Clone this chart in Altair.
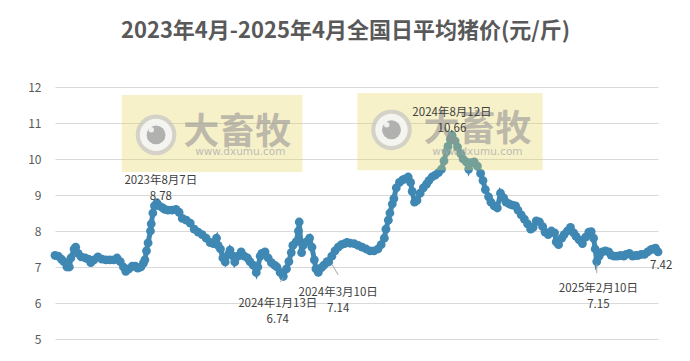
import altair as alt
import pandas as pd

# ---------------- data ----------------
start_date = "2023-04-01"
day_offsets = [
    0, 4, 8, 11, 15, 18, 20, 24, 26, 29, 33, 38, 42, 45, 49, 54, 59, 64, 69, 74,
    78, 82, 86, 89, 93, 97, 101, 104, 108, 111, 113, 115, 117, 120, 121, 123, 125, 128, 131, 135,
    138, 142, 147, 152, 156, 160, 165, 170, 175, 180, 185, 190, 195, 199, 203, 205, 208, 211, 214, 218,
    220, 224, 226, 230, 234, 238, 242, 245, 249, 253, 255, 258, 260, 264, 268, 272, 276, 279, 283, 287,
    291, 294, 297, 299, 303, 306, 307, 310, 312, 316, 320, 323, 326, 328, 331, 335, 338, 342, 344, 348,
    352, 356, 360, 364, 367, 371, 376, 381, 386, 391, 396, 401, 406, 410, 414, 416, 419, 421, 424, 426,
    429, 433, 437, 440, 444, 447, 449, 452, 455, 459, 463, 467, 470, 474, 478, 482, 486, 489, 492, 494,
    497, 499, 503, 506, 510, 513, 517, 520, 523, 527, 531, 535, 538, 541, 545, 548, 552, 556, 560, 564,
    567, 571, 575, 579, 582, 586, 590, 594, 598, 601, 605, 609, 613, 616, 620, 624, 628, 630, 633, 637,
    640, 644, 648, 652, 655, 659, 663, 667, 671, 674, 677, 679, 681, 684, 688, 692, 696, 699, 703, 707,
    711, 715, 718, 722, 726, 730, 733, 737, 741, 745, 749, 752, 755, 758,
]
prices = [
    7.32, 7.30, 7.22, 7.15, 7.00, 7.00, 7.25, 7.50, 7.55, 7.38, 7.28, 7.25, 7.22, 7.12, 7.20, 7.28, 7.22, 7.20, 7.20, 7.20,
    7.25, 7.15, 7.00, 6.88, 6.95, 7.02, 7.02, 6.97, 7.00, 7.10, 7.20, 7.45, 7.67, 8.00, 8.20, 8.50, 8.70, 8.78, 8.70, 8.65,
    8.60, 8.58, 8.58, 8.60, 8.52, 8.35, 8.30, 8.22, 8.05, 7.97, 7.90, 7.80, 7.68, 7.65, 7.80, 7.60, 7.50, 7.25, 7.14, 7.35,
    7.47, 7.30, 7.14, 7.30, 7.42, 7.30, 7.25, 7.15, 7.05, 6.85, 7.00, 7.30, 7.38, 7.42, 7.25, 7.12, 7.05, 7.00, 6.85, 6.74,
    6.95, 7.15, 7.40, 7.60, 7.70, 8.00, 8.25, 7.40, 7.60, 7.70, 7.80, 7.55, 7.20, 6.95, 6.85, 6.98, 7.05, 7.15, 7.14, 7.30,
    7.45, 7.55, 7.62, 7.65, 7.68, 7.66, 7.65, 7.60, 7.55, 7.50, 7.45, 7.45, 7.50, 7.62, 7.80, 8.05, 8.30, 8.50, 8.75, 8.90,
    9.20, 9.35, 9.42, 9.45, 9.50, 9.35, 9.10, 8.80, 8.85, 9.05, 9.20, 9.30, 9.40, 9.50, 9.55, 9.62, 9.72, 9.95, 10.20, 10.35,
    10.55, 10.66, 10.50, 10.33, 10.15, 10.00, 9.92, 9.72, 9.90, 9.92, 9.80, 9.60, 9.40, 9.15, 8.95, 8.80, 8.70, 8.64, 9.05, 8.92,
    8.80, 8.75, 8.72, 8.70, 8.58, 8.45, 8.33, 8.20, 8.05, 8.10, 8.28, 8.25, 8.12, 7.97, 7.90, 8.00, 7.95, 7.70, 7.62, 7.80,
    7.90, 8.00, 8.10, 7.95, 7.85, 7.75, 7.65, 7.83, 7.97, 7.98, 7.80, 7.50, 7.15, 7.30, 7.42, 7.45, 7.42, 7.33, 7.30, 7.30,
    7.32, 7.30, 7.35, 7.38, 7.30, 7.32, 7.32, 7.35, 7.35, 7.42, 7.48, 7.50, 7.52, 7.42,
]
y_ticks = [5, 6, 7, 8, 9, 10, 11, 12]
title_text = "2023年4月-2025年4月全国日平均猪价(元/斤)"

# annotations
ann_texts = ["2023年8月7日\n8.78", "2024年1月13日\n6.74", "2024年3月10日\n7.14",
             "2024年8月12日\n10.66", "2025年2月10日\n7.15", "7.42"]
ann_days = [133, 280, 356, 499, 683, 762]
ann_vals = [9.39, 5.97, 6.28, 11.29, 6.39, 7.03]

# leader lines (from point to label)
lead_day1 = [287, 348, 681]
lead_val1 = [6.70, 7.08, 7.08]
lead_day2 = [283, 356, 681]
lead_val2 = [6.58, 6.78, 6.83]

# watermark boxes
wm_day1 = [84, 380]
wm_day2 = [311, 613]
wm_top = [11.78, 11.83]
wm_bot = [9.64, 9.69]
logo_days = [127, 423]
logo_vals = [10.67, 10.81]
brand_days = [229, 531]
brand_vals = [10.72, 10.81]
url_vals = [10.19, 10.19]
url_days = [233, 531]
brand_text = "大畜牧"
url_text = "www.dxumu.com"

# ---------------- frames ----------------
t0 = pd.Timestamp(start_date)
def to_dates(days):
    return [t0 + pd.Timedelta(days=int(d)) for d in days]

df = pd.DataFrame({"date": to_dates(day_offsets), "price": prices})
ann_df = pd.DataFrame({"date": to_dates(ann_days), "v": ann_vals, "t": ann_texts})
lead_df = pd.DataFrame({"d1": to_dates(lead_day1), "v1": lead_val1,
                        "d2": to_dates(lead_day2), "v2": lead_val2})
wm_df = pd.DataFrame({"d1": to_dates(wm_day1), "d2": to_dates(wm_day2), "top": wm_top, "bot": wm_bot})
logo_df = pd.DataFrame({"date": to_dates(logo_days), "v": logo_vals})
hl_df = pd.DataFrame({"date": to_dates([d - 6 for d in logo_days]), "v": [v + 0.14 for v in logo_vals]})
brand_df = pd.DataFrame({"date": to_dates(brand_days), "v": brand_vals, "t": [brand_text] * 2})
url_df = pd.DataFrame({"date": to_dates(url_days), "v": url_vals, "t": [url_text] * 2})

FONT = "Noto Sans CJK SC"
xscale = alt.Scale(domain=[alt.DateTime(year=2023, month=4, date=1),
                           alt.DateTime(year=2025, month=4, date=28)])
yscale = alt.Scale(domain=[5, 12], nice=False, zero=False)
yaxis = alt.Axis(values=y_ticks, grid=True, gridColor="#d9d9d9", gridWidth=1,
                 domain=False, ticks=False, labelPadding=14, title=None,
                 labelColor="#595959", labelFontSize=12, labelFont=FONT)

X = lambda f: alt.X(f"{f}:T", scale=xscale, axis=None)
Y = lambda f: alt.Y(f"{f}:Q", scale=yscale, axis=yaxis)

line = alt.Chart(df).mark_line(
    color="#3F88B4", strokeWidth=5, clip=False,
    point=alt.OverlayMarkDef(filled=True, size=78, color="#3F88B4", opacity=1),
).encode(x=X("date"), y=Y("price"))

wm_rect = alt.Chart(wm_df).mark_rect(color="#E6D55A", opacity=0.32).encode(
    x=X("d1"), x2="d2", y=Y("top"), y2="bot")

ring = alt.Chart(logo_df).mark_point(filled=True, shape="circle", size=1650,
                                      color="#c4c4c4", opacity=0.7).encode(x=X("date"), y=Y("v"))
inner = alt.Chart(logo_df).mark_point(filled=True, shape="circle", size=1050,
                                       color="#ffffff", opacity=0.75).encode(x=X("date"), y=Y("v"))
pupil = alt.Chart(logo_df).mark_point(filled=True, shape="circle", size=360,
                                       color="#949494", opacity=0.7).encode(x=X("date"), y=Y("v"))
hl = alt.Chart(hl_df).mark_point(filled=True, shape="circle", size=30,
                                  color="#ffffff", opacity=0.8).encode(x=X("date"), y=Y("v"))

brand = alt.Chart(brand_df).mark_text(font=FONT, fontSize=36, fontWeight="bold",
                                      color="#959595", opacity=0.6, baseline="middle").encode(
    x=X("date"), y=Y("v"), text="t:N")
url = alt.Chart(url_df).mark_text(font="DejaVu Sans", fontSize=10.5, color="#aaaaaa",
                                  opacity=0.75, baseline="middle").encode(
    x=X("date"), y=Y("v"), text="t:N")

leads = alt.Chart(lead_df).mark_rule(color="#a6a6a6", strokeWidth=1).encode(
    x=X("d1"), x2="d2", y=Y("v1"), y2="v2")

ann = alt.Chart(ann_df).mark_text(font=FONT, fontSize=11.5, color="#404040",
                                  lineBreak="\n", lineHeight=16, baseline="middle").encode(
    x=X("date"), y=Y("v"), text="t:N")

chart = alt.layer(line, wm_rect, ring, inner, pupil, hl, brand, url, leads, ann).properties(
    width=603, height=252,
    autosize=alt.AutoSizeParams(type="none"),
    padding={"left": 47, "top": 79, "right": 20, "bottom": 14},
    title=alt.TitleParams(title_text, font=FONT, fontSize=22, fontWeight="bold",
                          color="#595959", anchor="middle", offset=38, dx=-11),
    background="white",
).configure_view(stroke=None)

chart.save("out.html", embed_options={"renderer": "svg", "actions": False})
